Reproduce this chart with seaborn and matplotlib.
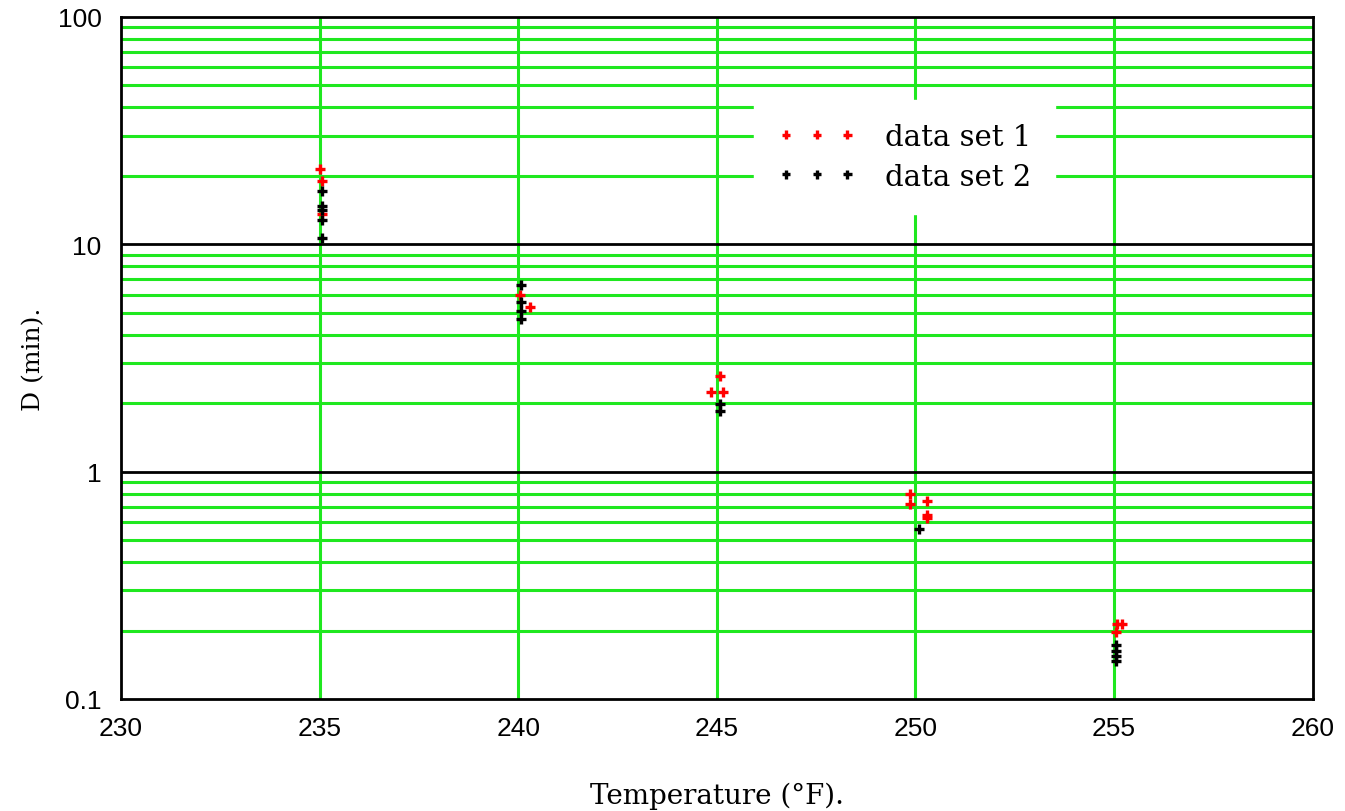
import numpy as np
import pandas as pd
import matplotlib
matplotlib.use("Agg")
import matplotlib.pyplot as plt
import seaborn as sns
from matplotlib.ticker import FixedLocator, NullFormatter

# data
temp_set1 = [235.0, 235.07, 235.07, 240.05, 240.3, 245.08, 244.85, 245.15,
             249.85, 249.85, 250.3, 250.3, 250.3, 255.07, 255.2, 255.05]
d_set1 = [21.5, 18.9, 13.6, 5.99, 5.27, 2.63, 2.23, 2.23,
          0.80, 0.72, 0.74, 0.645, 0.625, 0.214, 0.214, 0.196]

temp_set2 = [235.07, 235.07, 235.07, 235.07, 235.07, 240.08, 240.08, 240.08,
             240.08, 245.07, 245.07, 250.1, 255.05, 255.05, 255.05, 255.05]
d_set2 = [17.2, 14.7, 14.2, 12.8, 10.6, 6.6, 5.56, 5.06,
          4.7, 1.99, 1.85, 0.56, 0.173, 0.163, 0.155, 0.147]

x_ticks = [230, 235, 240, 245, 250, 255, 260]
y_ticks = [0.1, 1, 10, 100]
y_tick_labels = ["0.1", "1", "10", "100"]

df1 = pd.DataFrame({"T": temp_set1, "D": d_set1})
df2 = pd.DataFrame({"T": temp_set2, "D": d_set2})

sns.set_style("white")
plt.rcParams["text.color"] = "black"
plt.rcParams["xtick.color"] = "black"
plt.rcParams["ytick.color"] = "black"
plt.rcParams["axes.labelcolor"] = "black"
green = "#1fe81f"

fig = plt.figure(figsize=(13.45, 8.12), dpi=100)
ax = fig.add_axes([0.09, 0.138, 0.886, 0.84])

ax.set_yscale("log")
ax.set_xlim(230, 260)
ax.set_ylim(0.1, 100)

# grid: green verticals at 5 deg, green minor horizontals, black decade lines
for t in x_ticks[1:-1]:
    ax.axvline(t, color=green, lw=2.2, zorder=1)
minor = [m * 10.0 ** e for e in (-1, 0, 1) for m in range(2, 10)]
for v in minor:
    ax.axhline(v, color=green, lw=2.2, zorder=1)
for v in (1, 10):
    ax.axhline(v, color="black", lw=2, zorder=1)

sns.scatterplot(data=df1, x="T", y="D", ax=ax, marker="+", color="red",
                s=60, linewidth=2.4, label="data set 1", zorder=3)
sns.scatterplot(data=df2, x="T", y="D", ax=ax, marker="+", color="black",
                s=60, linewidth=2.4, label="data set 2", zorder=3)

ax.xaxis.set_major_locator(FixedLocator(x_ticks))
ax.yaxis.set_major_locator(FixedLocator(y_ticks))
ax.yaxis.set_minor_locator(FixedLocator(minor))
ax.yaxis.set_minor_formatter(NullFormatter())
ax.set_yticklabels(y_tick_labels)
ax.tick_params(axis="both", which="both", length=0, labelsize=19)
ax.tick_params(axis="x", pad=12)
ax.tick_params(axis="y", pad=14)
for lab in ax.get_xticklabels() + ax.get_yticklabels():
    lab.set_fontfamily("Liberation Sans")

for sp in ax.spines.values():
    sp.set_color("black")
    sp.set_linewidth(2)
    sp.set_zorder(4)

ax.set_xlabel("Temperature (°F).", fontsize=20, family="DejaVu Serif", labelpad=30)
ax.set_ylabel("D (min).", fontsize=18, family="DejaVu Serif")
ax.yaxis.set_label_coords(-0.064, 0.5)

leg = ax.legend(loc="upper left", bbox_to_anchor=(0.519, 0.90), scatterpoints=3,
                scatteryoffsets=[0.5], markerscale=0.8,
                frameon=True, fancybox=False, borderpad=0.8, handlelength=2.7,
                handletextpad=1.0, labelspacing=0.4,
                prop={"family": "DejaVu Serif", "size": 21})
leg.get_frame().set_facecolor("white")
leg.get_frame().set_edgecolor("white")
leg.get_frame().set_alpha(1)
leg.set_zorder(5)

fig.savefig("out.png", dpi=100)
